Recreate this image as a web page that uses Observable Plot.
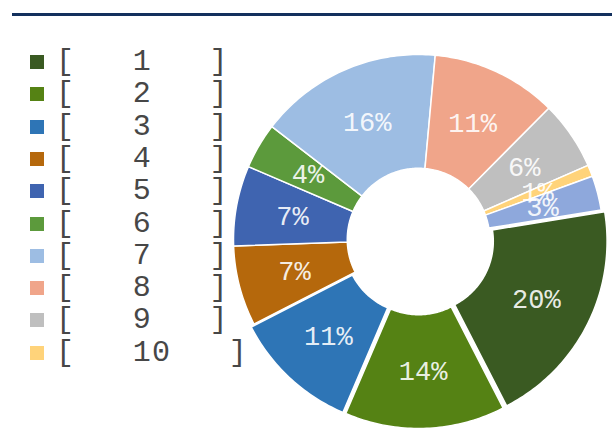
<!DOCTYPE html>
<html><head><meta charset="utf-8">
<script src="https://cdn.jsdelivr.net/npm/d3@7"></script>
<script src="https://cdn.jsdelivr.net/npm/@observablehq/plot@0.6"></script>
<style>
body{margin:0;background:#fff;}
#wrap{position:relative;width:612px;height:428px;overflow:hidden;font-family:"Liberation Mono",monospace;}
#chart{position:absolute;left:0;top:0;}
#rule{position:absolute;left:12px;top:13px;width:600px;height:3px;background:#13305d;}
.row{position:absolute;left:0;height:32px;width:260px;}
.sw{position:absolute;left:30px;top:9px;width:14px;height:14px;}
.lab{position:absolute;left:56px;top:0;line-height:32px;font-size:30px;letter-spacing:1.2px;color:#474747;white-space:pre;}
</style></head><body>
<div id="wrap"><div id="chart"></div><div id="rule"></div><div id="legend"></div></div>
<script>
// ---- data ----
const categories = ["1","2","3","4","5","6","7","8","9","10","11"];
const values = [20, 14, 11, 7, 7, 4, 16, 11, 6, 1, 3];
const colors = ["#3a5a22","#558214","#2e75b6","#b5680c","#3f64b0","#5c9a3c","#9dbde3","#f0a58a","#bfbfbf","#ffd37a","#8ea8dc"];
const legendCategories = ["1","2","3","4","5","6","7","8","9","10"];

// ---- layout ----
const W = 612, H = 428;
const cx = 418, cy = 239, R = 185;
const inner = 0.385;          // hole radius as fraction of R
const explodePx = 4;          // first three slices are pulled out
const explodedCount = 3;
const startDeg = 80.8;

const rows = categories.map((c, i) => ({cat: c, value: values[i]}));
const a0 = startDeg * Math.PI / 180;
const arcs = d3.pie().sort(null).value(d => d.value).startAngle(a0).endAngle(a0 + 2 * Math.PI)(rows);

const poly = [];
const labels = [];
arcs.forEach((a, i) => {
  const mid = (a.startAngle + a.endAngle) / 2;
  const off = i < explodedCount ? explodePx / R : 0;
  const ox = off * Math.sin(mid), oy = off * Math.cos(mid);
  const n = Math.max(2, Math.ceil((a.endAngle - a.startAngle) * 180 / Math.PI));
  for (let k = 0; k <= n; k++) {
    const t = a.startAngle + (a.endAngle - a.startAngle) * k / n;
    poly.push({cat: a.data.cat, x: ox + Math.sin(t), y: oy + Math.cos(t)});
  }
  for (let k = n; k >= 0; k--) {
    const t = a.startAngle + (a.endAngle - a.startAngle) * k / n;
    poly.push({cat: a.data.cat, x: ox + inner * Math.sin(t), y: oy + inner * Math.cos(t)});
  }
  const lr = (1 + inner) / 2;
  labels.push({x: ox + lr * Math.sin(mid), y: oy + lr * Math.cos(mid), text: a.data.value + "%"});
});

const chart = Plot.plot({
  width: W, height: H,
  margin: 0,
  style: {background: "transparent", fontFamily: "Liberation Mono, monospace"},
  x: {domain: [-1, 1], range: [cx - R, cx + R], axis: null},
  y: {domain: [-1, 1], range: [cy + R, cy - R], axis: null},
  color: {type: "ordinal", domain: categories, range: colors},
  marks: [
    Plot.line(poly, {x: "x", y: "y", z: "cat", fill: "cat", stroke: "white", strokeWidth: 1.5, curve: "linear-closed"}),
    Plot.text(labels, {x: "x", y: "y", text: "text", fill: "white", fillOpacity: 0.9, fontSize: 27, fontFamily: "Liberation Mono, monospace"})
  ]
});
document.getElementById("chart").appendChild(chart);

// ---- legend ----
const leg = document.getElementById("legend");
legendCategories.forEach((c, i) => {
  const row = document.createElement("div");
  row.className = "row";
  row.style.top = (46 + i * 32.3) + "px";
  const sw = document.createElement("div");
  sw.className = "sw";
  sw.style.background = colors[categories.indexOf(c)];
  const lab = document.createElement("div");
  lab.className = "lab";
  lab.textContent = "[   " + c + "   ]";
  row.appendChild(sw); row.appendChild(lab);
  leg.appendChild(row);
});
</script>
</body></html>
